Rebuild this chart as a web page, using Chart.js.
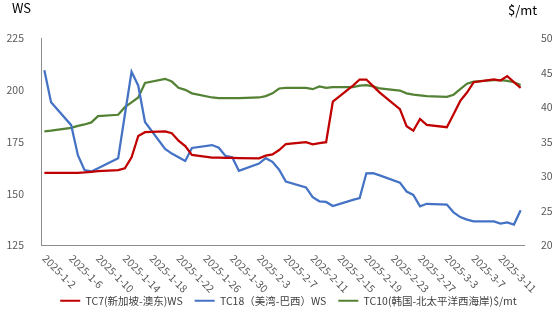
<!DOCTYPE html>
<html>
<head>
<meta charset="utf-8">
<script src="https://cdn.jsdelivr.net/npm/chart.js@4.4.1/dist/chart.umd.min.js"></script>
<style>
  html, body { margin: 0; padding: 0; background: #fff; }
  #wrap { width: 555px; height: 324px; }
</style>
</head>
<body>
<div id="wrap"><canvas id="freightChart"></canvas></div>
<script>
// daily assessments (trading days only)
const dates = [
  "2025-1-2", "2025-1-3", "2025-1-6", "2025-1-7", "2025-1-8", "2025-1-9", "2025-1-10",
  "2025-1-13", "2025-1-14", "2025-1-15", "2025-1-16", "2025-1-17",
  "2025-1-20", "2025-1-21", "2025-1-22", "2025-1-23", "2025-1-24",
  "2025-1-27", "2025-1-28", "2025-1-29", "2025-1-30", "2025-1-31",
  "2025-2-3", "2025-2-4", "2025-2-5", "2025-2-6", "2025-2-7",
  "2025-2-10", "2025-2-11", "2025-2-12", "2025-2-13", "2025-2-14",
  "2025-2-17", "2025-2-18", "2025-2-19", "2025-2-20", "2025-2-21",
  "2025-2-24", "2025-2-25", "2025-2-26", "2025-2-27", "2025-2-28",
  "2025-3-3", "2025-3-4", "2025-3-5", "2025-3-6", "2025-3-7",
  "2025-3-10", "2025-3-11", "2025-3-12", "2025-3-13", "2025-3-14"
];

const tc7 = [
  160, 160, 160, 160, 160.2, 160.5, 160.8,
  161.3, 162.2, 167.5, 177.8, 179.6,
  180, 179.1, 175.5, 172.9, 168.7,
  167.4, 167.3, 167.2, 167.2, 167.1,
  167, 168.3, 168.9, 171, 173.9,
  174.8, 173.8, 174.3, 174.8, 194.3,
  202.1, 205, 205, 201.8, 198.7,
  190.7, 182.5, 180.3, 186, 183.1,
  182, 188.3, 194.7, 198.7, 203.7,
  205, 204.5, 206.6, 203.7, 201
];

const tc18 = [
  209.5, 194, 183, 168.5, 161.3, 160.7, 162.2,
  167, 188, 208.7, 202, 184.5,
  171.5, 169.3, 167.5, 165.7, 172,
  173.4, 172.1, 168.2, 167.5, 161,
  164.5, 167.1, 165.3, 161.5, 155.8,
  153, 148.3, 146.3, 146, 144,
  147, 147.9, 159.8, 159.9, 158.8,
  155.3, 151, 149.4, 143.9, 145.1,
  144.7, 141, 138.7, 137.5, 136.6,
  136.6, 135.6, 136.1, 135.1, 142
];

const tc10 = [
  36.5, 36.6, 37.0, 37.3, 37.5, 37.8, 38.7,
  38.9, 40.0, 40.7, 41.4, 43.5,
  44.1, 43.7, 42.8, 42.5, 42.0,
  41.4, 41.3, 41.3, 41.3, 41.3,
  41.4, 41.6, 42.0, 42.7, 42.8,
  42.8, 42.6, 43.0, 42.8, 42.9,
  42.9, 43.1, 43.2, 43.0, 42.7,
  42.4, 42.0, 41.8, 41.7, 41.6,
  41.5, 41.8, 42.6, 43.4, 43.7,
  43.9, 43.9, 43.8, 43.6, 43.2
];

const seriesNames = ["TC7(新加坡-澳东)WS", "TC18（美湾-巴西）WS", "TC10(韩国-北太平洋西海岸)$/mt"];
const seriesColors = ["#C00000", "#4472C4", "#548235"];

const startDay = "2025-1-2";
const endDay = "2025-3-14";
const tickEvery = 4;

const FONT = "'Noto Sans CJK SC', 'Liberation Sans', sans-serif";
const DAY = 86400000;

function toUTC(s) {
  const [y, m, d] = s.split("-").map(Number);
  return Date.UTC(y, m - 1, d);
}
const t0 = toUTC(startDay);
const dayCount = (toUTC(endDay) - t0) / DAY;

function dayIndex(s) {
  return (toUTC(s) - t0) / DAY;
}
function dayLabel(i) {
  const t = new Date(t0 + i * DAY);
  return t.getUTCFullYear() + "-" + (t.getUTCMonth() + 1) + "-" + t.getUTCDate();
}
function points(values) {
  return values.map((v, i) => ({ x: dayIndex(dates[i]), y: v }));
}

// rotated date labels and the two unit captions
const extraText = {
  id: "extraText",
  afterLayout(chart) {
    // centre the legend row under the plot rather than the whole canvas
    chart.legend.left += 22;
  },
  afterDraw(chart) {
    const ctx = chart.ctx;
    const xs = chart.scales.x;
    ctx.save();
    ctx.font = "10.5px " + FONT;
    ctx.fillStyle = "#595959";
    ctx.textAlign = "left";
    ctx.textBaseline = "middle";
    xs.ticks.forEach(t => {
      const px = xs.getPixelForValue(t.value);
      ctx.save();
      ctx.translate(px, xs.top + 11);
      ctx.rotate(Math.PI / 4);
      ctx.fillText(dayLabel(t.value), 0, 0);
      ctx.restore();
    });
    ctx.font = "13px " + FONT;
    ctx.fillStyle = "#000";
    ctx.textBaseline = "alphabetic";
    ctx.fillText("WS", 12, 13);
    ctx.fillText("$/mt", 508, 15);
    ctx.restore();
  }
};

const ctx = document.getElementById("freightChart").getContext("2d");
new Chart(ctx, {
  type: "line",
  data: {
    datasets: [
      { label: seriesNames[0], data: points(tc7), yAxisID: "y", borderColor: seriesColors[0], backgroundColor: seriesColors[0] },
      { label: seriesNames[1], data: points(tc18), yAxisID: "y", borderColor: seriesColors[1], backgroundColor: seriesColors[1] },
      { label: seriesNames[2], data: points(tc10), yAxisID: "y1", borderColor: seriesColors[2], backgroundColor: seriesColors[2] }
    ]
  },
  options: {
    responsive: true,
    maintainAspectRatio: false,
    animation: false,
    layout: { padding: { top: 38, left: 0, right: 0, bottom: 8 } },
    elements: {
      line: { borderWidth: 2.25, tension: 0 },
      point: { radius: 0 }
    },
    scales: {
      x: {
        type: "linear",
        min: -0.5,
        max: dayCount + 0.5,
        grid: { display: false },
        border: { display: true, color: "#8c8c8c", width: 1 },
        ticks: { display: false },
        afterBuildTicks(scale) {
          const ticks = [];
          for (let i = 0; i <= dayCount; i += tickEvery) ticks.push({ value: i });
          scale.ticks = ticks;
        },
        afterFit(scale) { scale.height = 38; }
      },
      y: {
        position: "left",
        min: 125,
        max: 225,
        grid: { display: false },
        border: { display: true, color: "#8c8c8c", width: 1 },
        ticks: { stepSize: 25, padding: 9, color: "#595959", font: { family: FONT, size: 10.5 } },
        afterFit(scale) { scale.width = 41; }
      },
      y1: {
        position: "right",
        min: 20,
        max: 50,
        grid: { display: false },
        border: { display: false },
        ticks: { stepSize: 5, padding: 9, color: "#595959", font: { family: FONT, size: 10.5 } },
        afterFit(scale) { scale.width = 31; }
      }
    },
    plugins: {
      tooltip: { enabled: false },
      legend: {
        position: "bottom",
        labels: {
          color: "#404040",
          font: { family: FONT, size: 10.5 },
          boxWidth: 20,
          boxHeight: 2,
          padding: 12,
          generateLabels(chart) {
            return Chart.defaults.plugins.legend.labels.generateLabels(chart)
              .map(l => Object.assign(l, { lineWidth: 0, fillStyle: l.strokeStyle }));
          }
        }
      }
    }
  },
  plugins: [extraText]
});
</script>
</body>
</html>
